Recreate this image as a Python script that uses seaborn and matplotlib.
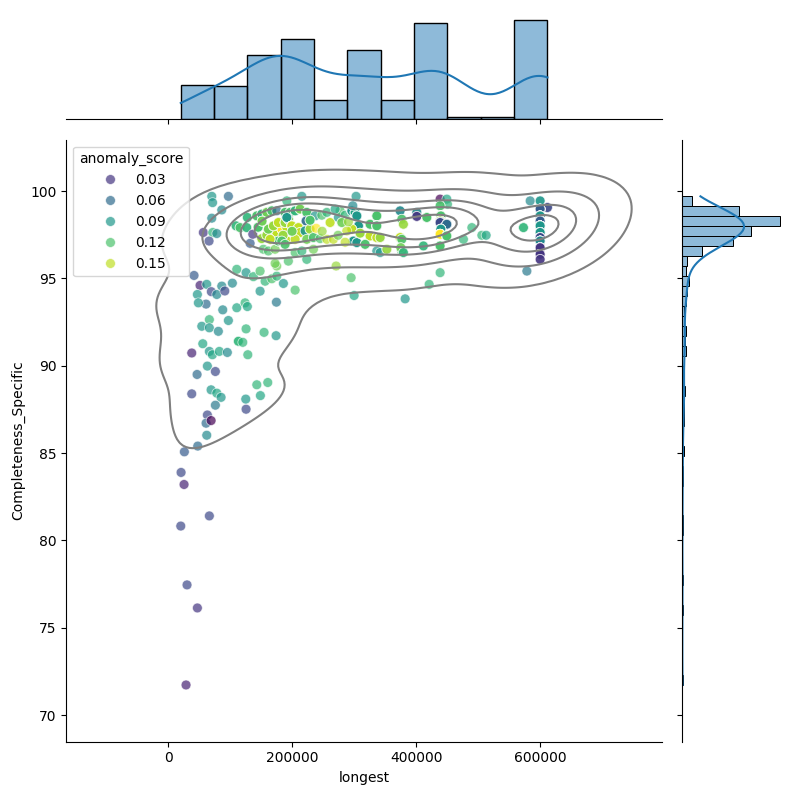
import numpy as np
import pandas as pd
import matplotlib
matplotlib.use('Agg')
import matplotlib.pyplot as plt
import seaborn as sns

# one entry per distinct record; n_copies = how many identical rows share it
longest = [
    70500, 97300, 71800, 86600, 70500, 56900, 72100, 78600, 66100, 41900,
    51600, 62400, 69800, 78600, 86600, 91500, 47300, 61300, 48900, 103700,
    88200, 110800, 124200, 127900, 148400, 174700, 156500, 167300, 175300, 186000,
    204900, 300000, 295200, 271000, 110800, 125800, 137600, 148400, 175300, 172600,
    54400, 66600, 66600, 81100, 97300, 125800, 154800, 174200, 113400, 120500,
    56000, 38200, 66600, 71500, 82700, 95600, 128600, 63400, 76300, 46800,
    69400, 78600, 85500, 38200, 76300, 63400, 61300, 69400, 62400, 125300,
    125800, 143100, 160800, 148900, 47900, 26300, 21000, 25800, 66600, 20500,
    30600, 47300, 29000, 382300, 421000, 438700, 578600,
    # dense block
    109700, 116100, 126900, 127900, 132300, 136600, 151100, 159200, 153700, 161800,
    172600, 175300, 183400, 191500, 161800, 169900, 177900, 143100, 151100, 159200,
    167300, 175300, 188700, 191500, 188700, 194000, 191500, 177900, 164500, 185500,
    145200, 151600, 215700, 303200, 196800, 204900, 212900, 191500, 223700, 222600,
    237100, 247900, 256000, 261300, 274700, 277400, 285500, 296300, 301600, 304400,
    297900, 307000, 296300, 288200, 280200, 290800, 336600, 325800, 336600, 325800,
    336600, 342000, 374200, 376900, 379500, 374200, 376900, 401100, 401100, 199500,
    210200, 212900, 221000, 229000, 223700, 234400, 245200, 256000, 266600, 298900,
    304400, 183400, 188700, 204900, 215700, 234400, 223700, 194000, 336600, 342000,
    352800, 376900, 375300, 379500, 204900, 238700, 248400, 274200, 285500, 309700,
    317800, 200000, 229000, 269400,
    # column near 440k
    438700, 449500, 450500, 438700, 439900, 438700, 438700, 449500, 439900, 438700,
    449500, 438700, 411800, 417300, 476300, 489900, 506000, 512900,
    # column at 600k
    583900, 600000, 611800, 600000, 600000, 600000, 573100, 600000, 600000, 600000,
    600000, 600000, 600000, 600000,
]

completeness = [
    99.70, 99.70, 99.34, 98.92, 98.45, 97.63, 97.63, 97.57, 97.14, 95.17,
    94.60, 94.66, 94.24, 94.08, 94.56, 94.28, 94.08, 93.53, 93.60, 94.73,
    93.20, 93.32, 93.60, 93.39, 94.27, 93.64, 94.84, 94.98, 95.13, 94.71,
    94.33, 94.02, 95.04, 95.71, 95.52, 95.33, 95.10, 95.42, 95.71, 95.86,
    92.26, 92.64, 92.17, 91.97, 92.59, 92.11, 91.91, 91.72, 91.40, 91.34,
    91.26, 90.73, 90.82, 90.63, 90.82, 90.76, 90.63, 89.98, 89.67, 89.50,
    88.62, 88.43, 88.19, 88.39, 87.74, 87.18, 86.71, 86.86, 86.02, 88.09,
    87.51, 88.91, 89.04, 88.29, 85.40, 85.07, 83.89, 83.20, 81.40, 80.82,
    77.45, 76.13, 71.72, 93.83, 94.66, 95.33, 95.42,
    98.01, 97.91, 97.91, 98.49, 97.01, 97.53, 97.28, 97.47, 96.67, 96.57,
    96.67, 97.63, 97.82, 97.91, 97.82, 98.01, 98.20, 98.58, 98.68, 98.78,
    98.87, 98.87, 98.78, 99.44, 98.20, 98.39, 97.14, 97.14, 97.24, 97.47,
    97.93, 98.28, 99.70, 99.70, 98.78, 98.87, 98.97, 98.49, 98.78, 98.29,
    98.58, 98.62, 98.78, 98.20, 98.49, 98.87, 98.62, 98.87, 98.78, 98.58,
    99.16, 98.01, 97.82, 97.72, 98.20, 98.24, 98.58, 98.10, 98.01, 97.43,
    97.34, 97.34, 98.87, 98.39, 98.10, 97.34, 97.24, 98.78, 98.55, 98.01,
    97.91, 97.63, 97.72, 97.82, 97.24, 97.34, 97.28, 97.24, 97.24, 97.14,
    97.05, 97.14, 96.95, 96.48, 96.57, 96.67, 96.09, 95.99, 96.57, 96.48,
    96.67, 96.57, 96.76, 96.48, 97.24, 97.87, 97.70, 97.47, 97.07, 97.59,
    96.95, 97.70, 98.33, 98.97,
    99.54, 99.54, 99.25, 99.16, 98.58, 98.29, 98.20, 98.10, 97.82, 97.53,
    97.43, 96.86, 96.86, 98.49, 97.24, 97.91, 97.47, 97.47,
    99.44, 99.44, 99.06, 98.97, 98.58, 98.29, 97.91, 98.01, 97.63, 97.34,
    97.14, 96.76, 96.38, 96.09,
]

anomaly_score = [
    0.09, 0.06, 0.09, 0.08, 0.08, 0.03, 0.11, 0.08, 0.04, 0.05,
    0.02, 0.09, 0.04, 0.08, 0.08, 0.04, 0.09, 0.06, 0.09, 0.08,
    0.08, 0.10, 0.11, 0.10, 0.09, 0.07, 0.11, 0.12, 0.11, 0.09,
    0.12, 0.10, 0.12, 0.14, 0.11, 0.09, 0.11, 0.12, 0.13, 0.13,
    0.09, 0.11, 0.09, 0.08, 0.09, 0.11, 0.11, 0.09, 0.11, 0.11,
    0.10, 0.02, 0.09, 0.10, 0.10, 0.08, 0.11, 0.09, 0.04, 0.06,
    0.09, 0.10, 0.09, 0.04, 0.07, 0.04, 0.06, 0.005, 0.08, 0.09,
    0.04, 0.11, 0.11, 0.10, 0.06, 0.05, 0.04, 0.02, 0.04, 0.04,
    0.04, 0.03, 0.02, 0.09, 0.11, 0.11, 0.07,
    0.11, 0.12, 0.11, 0.11, 0.05, 0.03, 0.14, 0.14, 0.12, 0.12,
    0.13, 0.15, 0.165, 0.15, 0.13, 0.14, 0.15, 0.12, 0.11, 0.13,
    0.12, 0.06, 0.12, 0.11, 0.14, 0.13, 0.15, 0.12, 0.15, 0.14,
    0.12, 0.13, 0.09, 0.09, 0.12, 0.11, 0.13, 0.09, 0.12, 0.06,
    0.09, 0.12, 0.11, 0.15, 0.09, 0.12, 0.11, 0.09, 0.10, 0.09,
    0.08, 0.09, 0.15, 0.15, 0.13, 0.14, 0.12, 0.12, 0.12, 0.15,
    0.15, 0.14, 0.08, 0.12, 0.14, 0.15, 0.12, 0.08, 0.03, 0.15,
    0.15, 0.15, 0.09, 0.14, 0.13, 0.12, 0.12, 0.15, 0.15, 0.09,
    0.09, 0.12, 0.12, 0.12, 0.11, 0.13, 0.11, 0.12, 0.09, 0.09,
    0.14, 0.12, 0.13, 0.11, 0.15, 0.165, 0.14, 0.13, 0.15, 0.14,
    0.12, 0.13, 0.12, 0.10,
    0.005, 0.10, 0.11, 0.12, 0.12, 0.14, 0.04, 0.06, 0.09, 0.165,
    0.12, 0.12, 0.11, 0.12, 0.11, 0.11, 0.11, 0.10,
    0.08, 0.09, 0.04, 0.05, 0.09, 0.05, 0.11, 0.09, 0.09, 0.04,
    0.08, 0.03, 0.03, 0.03,
]

n_copies = [1] * 48 + [2] + [1] * 38 + [
    2, 2, 2, 2, 1, 1, 3, 3, 1, 1,
    1, 4, 4, 3, 4, 4, 4, 3, 3, 3,
    3, 1, 3, 1, 6, 4, 3, 3, 3, 3,
    4, 4, 1, 1, 3, 3, 3, 3, 3, 2,
    1, 1, 1, 2, 1, 1, 1, 5, 5, 5,
    1, 6, 3, 1, 2, 1, 5, 6, 8, 4,
    4, 3, 2, 2, 2, 3, 2, 2, 2, 6,
    4, 3, 2, 3, 2, 2, 1, 1, 1, 4,
    3, 2, 2, 1, 1, 1, 1, 1, 1, 1,
    2, 2, 2, 2, 2, 1, 1, 1, 1, 4,
    3, 3, 3, 1,
    1, 1, 1, 2, 10, 19, 12, 10, 10, 12,
    8, 6, 2, 4, 1, 1, 1, 1,
    1, 2, 2, 8, 10, 18, 2, 17, 10, 10,
    10, 8, 6, 2,
]

df = pd.DataFrame({
    'longest': longest,
    'Completeness_Specific': completeness,
    'anomaly_score': anomaly_score,
    'n': n_copies,
})
df = df.loc[df.index.repeat(df['n'])].reset_index(drop=True)

g = sns.JointGrid(data=df, x='longest', y='Completeness_Specific', height=8)
sns.scatterplot(data=df, x='longest', y='Completeness_Specific', hue='anomaly_score',
                palette='viridis', s=50, alpha=0.7, ax=g.ax_joint)
sns.kdeplot(data=df, x='longest', y='Completeness_Specific', color='gray', levels=6,
            ax=g.ax_joint)
sns.histplot(data=df, x='longest', kde=True, bins=11, ax=g.ax_marg_x)
sns.histplot(data=df, y='Completeness_Specific', kde=True, bins=49, ax=g.ax_marg_y)
g.ax_marg_x.yaxis.get_label().set_visible(False)
g.ax_marg_y.xaxis.get_label().set_visible(False)

g.ax_joint.set_xlabel('longest')
g.ax_joint.set_ylabel('Completeness_Specific')

g.figure.savefig('out.png', dpi=100)
